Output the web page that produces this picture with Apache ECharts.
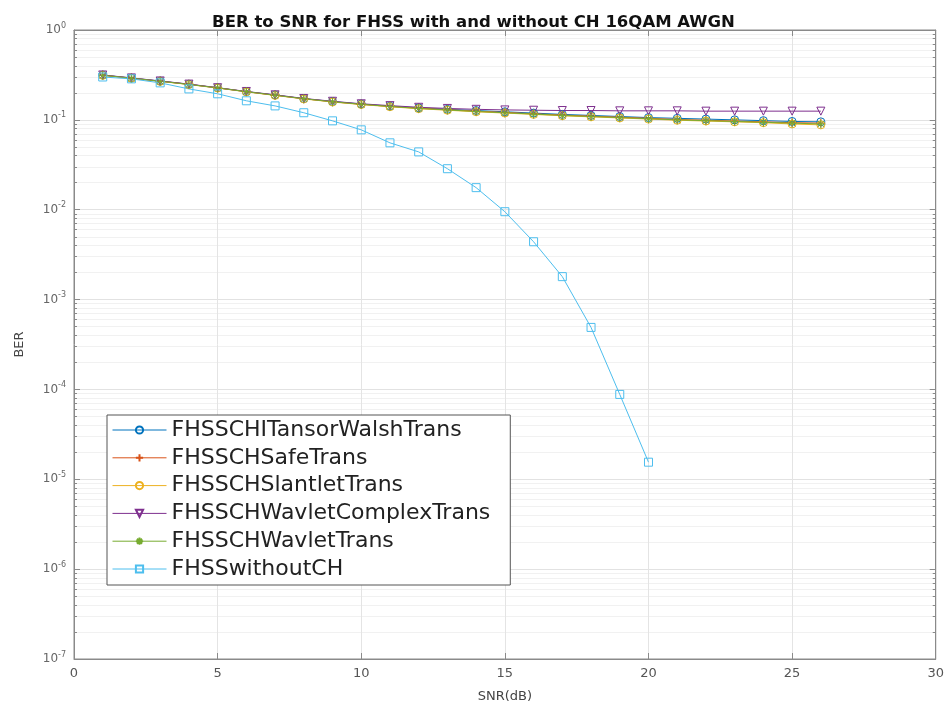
<!DOCTYPE html>
<html>
<head>
<meta charset="utf-8">
<script src="https://cdn.jsdelivr.net/npm/echarts@6/dist/echarts.min.js"></script>
<style>html,body{margin:0;padding:0;background:#fff;}#c{width:947px;height:710px;}</style>
</head>
<body>
<div id="c"></div>
<script>
// ---- data ----
var snrCH = [1,2,3,4,5,6,7,8,9,10,11,12,13,14,15,16,17,18,19,20,21,22,23,24,25,26];
var snrNoCH = [1,2,3,4,5,6,7,8,9,10,11,12,13,14,15,16,17,18,19,20];
var berTansorWalsh = [0.315,0.292,0.27,0.249,0.227,0.206,0.189,0.172,0.16,0.15,0.142,0.136,0.131,0.127,0.123,0.119,0.115,0.112,0.109,0.106,0.104,0.102,0.1,0.098,0.096,0.095];
var berSafe = [0.314,0.291,0.269,0.249,0.227,0.206,0.188,0.172,0.159,0.149,0.141,0.135,0.13,0.125,0.121,0.117,0.113,0.11,0.107,0.104,0.101,0.099,0.097,0.095,0.093,0.092];
var berSlantlet = [0.313,0.29,0.268,0.247,0.226,0.205,0.187,0.171,0.158,0.148,0.14,0.133,0.128,0.123,0.119,0.115,0.111,0.108,0.105,0.102,0.099,0.097,0.095,0.093,0.09,0.088];
var berWavletComplex = [0.316,0.293,0.271,0.25,0.228,0.207,0.19,0.173,0.161,0.151,0.144,0.138,0.134,0.131,0.129,0.128,0.127,0.127,0.126,0.126,0.126,0.125,0.125,0.125,0.125,0.125];
var berWavlet = [0.314,0.291,0.269,0.248,0.227,0.206,0.188,0.172,0.159,0.149,0.141,0.134,0.129,0.124,0.12,0.116,0.112,0.109,0.106,0.103,0.1,0.098,0.096,0.094,0.092,0.09];
var berWithoutCH = [0.30,0.286,0.258,0.221,0.195,0.163,0.143,0.120,0.0975,0.0774,0.0555,0.044,0.0286,0.0176,0.0095,0.0044,0.0018,0.00049,0.000088,0.0000155];
var seriesNames = ['FHSSCHITansorWalshTrans','FHSSCHSafeTrans','FHSSCHSlantletTrans','FHSSCHWavletComplexTrans','FHSSCHWavletTrans','FHSSwithoutCH'];
var xTicks = [0,5,10,15,20,25,30];
var yMajor = [1e-7,1e-6,1e-5,1e-4,1e-3,1e-2,1e-1,1];
var yMinorMult = [2,3,4,5,6,7,8,9];

function pairs(xs, ys){ return ys.map(function(v,i){ return [xs[i], v]; }); }
var yMinor = [];
yMajor.slice(0,-1).forEach(function(d){ yMinorMult.forEach(function(m){ yMinor.push(+(d*m).toPrecision(3)); }); });

var FONT = 'DejaVu Sans';
var plus = 'path://M5,0 L5,10 M0,5 L10,5';
var star = 'path://M5,0 L5,10 M0,5 L10,5 M1.5,1.5 L8.5,8.5 M8.5,1.5 L1.5,8.5';
var tri = 'path://M0,0 L10,0 L5,9 Z';

function mk(name, xs, ys, color, symbol, size){
  return {
    name: name, type: 'line', data: pairs(xs, ys),
    symbol: symbol, symbolSize: size, showSymbol: true,
    lineStyle: {color: color, width: 1},
    itemStyle: {color: 'rgba(255,255,255,0)', borderColor: color, borderWidth: 1},
    emphasis: {disabled: true}, animation: false, z: 3
  };
}

var series = [
  mk(seriesNames[0], snrCH, berTansorWalsh, '#0072BD', 'circle', 8),
  mk(seriesNames[1], snrCH, berSafe, '#D95319', plus, 9),
  mk(seriesNames[2], snrCH, berSlantlet, '#EDB120', 'circle', 8),
  mk(seriesNames[3], snrCH, berWavletComplex, '#7E2F8E', tri, 8),
  mk(seriesNames[4], snrCH, berWavlet, '#77AC30', star, 9),
  mk(seriesNames[5], snrNoCH, berWithoutCH, '#4DBEEE', 'rect', 8)
];

var supLabel = function(v){
  var e = Math.round(Math.log10(v));
  return '{b|10}{s|' + e + '}';
};

var option = {
  backgroundColor: '#fff',
  animation: false,
  title: {
    text: 'BER to SNR for FHSS with and without CH 16QAM AWGN',
    left: 'center', top: 9,
    textStyle: {fontFamily: FONT, fontSize: 16.5, fontWeight: 'bold', color: '#111'}
  },
  grid: {left: 74, right: 10, top: 30, bottom: 51, show: true, borderColor: '#8a8a8a', borderWidth: 1, backgroundColor: 'transparent'},
  legend: {
    data: seriesNames, orient: 'vertical', left: 107, top: 415,
    backgroundColor: '#fff', borderColor: '#555', borderWidth: 1,
    padding: [4, 20, 5, 5], itemWidth: 54, itemHeight: 9, itemGap: 5.8,
    lineStyle: {width: 1},
    textStyle: {fontFamily: FONT, fontSize: 22, color: '#222', lineHeight: 22},
    selectedMode: false
  },
  xAxis: [{
    type: 'value', min: 0, max: 30, interval: 5,
    name: 'SNR(dB)', nameLocation: 'middle', nameGap: 31,
    nameTextStyle: {fontFamily: FONT, fontSize: 13, color: '#444'},
    axisLine: {show: true, lineStyle: {color: '#8a8a8a'}},
    axisTick: {show: true, inside: true, length: 6, lineStyle: {color: '#8a8a8a'}},
    axisLabel: {fontFamily: FONT, fontSize: 13, color: '#555', margin: 8},
    splitLine: {show: true, lineStyle: {color: '#e4e4e4'}}
  },{
    type: 'value', min: 0, max: 30, interval: 5, position: 'top',
    axisLine: {show: true, lineStyle: {color: '#8a8a8a'}},
    axisTick: {show: true, inside: true, length: 6, lineStyle: {color: '#8a8a8a'}},
    axisLabel: {show: false}, splitLine: {show: false}
  }],
  yAxis: [{
    type: 'log', logBase: 10, min: 1e-7, max: 1,
    name: 'BER', nameLocation: 'middle', nameGap: 48, nameRotate: 90,
    nameTextStyle: {fontFamily: FONT, fontSize: 13, color: '#444'},
    axisLine: {show: true, lineStyle: {color: '#8a8a8a'}},
    axisTick: {show: true, inside: true, length: 6, lineStyle: {color: '#8a8a8a'}},
    axisLabel: {
      margin: 8, formatter: supLabel,
      rich: {
        b: {fontFamily: FONT, fontSize: 12, color: '#666'},
        s: {fontFamily: FONT, fontSize: 8, color: '#666', padding: [0,0,9,0]}
      }
    },
    splitLine: {show: true, lineStyle: {color: '#e2e2e2'}}
  },{
    type: 'log', logBase: 10, min: 1e-7, max: 1, position: 'left',
    axisLine: {show: false},
    axisTick: {show: true, inside: true, length: 3, customValues: yMinor, lineStyle: {color: '#8a8a8a'}},
    axisLabel: {show: false, customValues: yMinor},
    splitLine: {show: true, lineStyle: {color: '#f1f1f1'}}
  },{
    type: 'log', logBase: 10, min: 1e-7, max: 1, position: 'right',
    axisLine: {show: true, lineStyle: {color: '#8a8a8a'}},
    axisTick: {show: true, inside: true, length: 6, lineStyle: {color: '#8a8a8a'}},
    axisLabel: {show: false}, splitLine: {show: false}
  },{
    type: 'log', logBase: 10, min: 1e-7, max: 1, position: 'right',
    axisLine: {show: false},
    axisTick: {show: true, inside: true, length: 3, customValues: yMinor, lineStyle: {color: '#8a8a8a'}},
    axisLabel: {show: false, customValues: yMinor}, splitLine: {show: false}
  }],
  series: series
};

var chart = echarts.init(document.getElementById('c'), null, {renderer: 'canvas'});
chart.setOption(option);
</script>
</body>
</html>
